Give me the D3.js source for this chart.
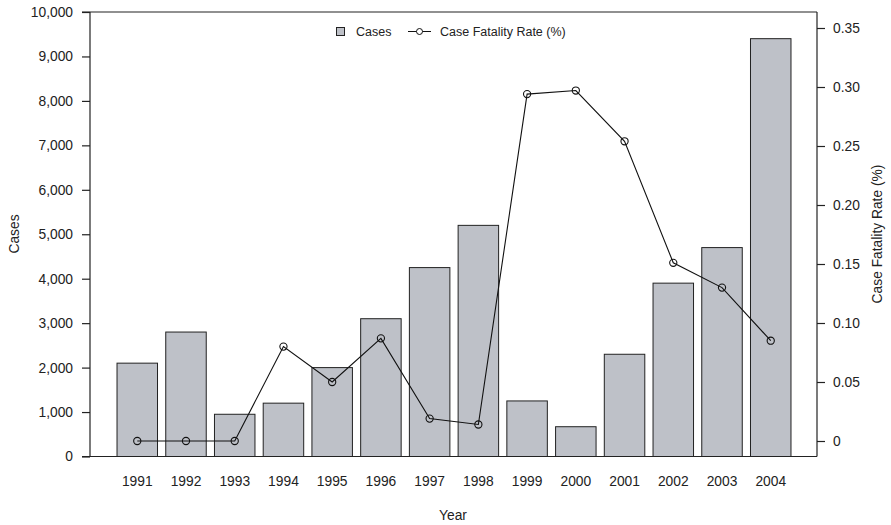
<!DOCTYPE html>
<html><head><meta charset="utf-8">
<script src="https://cdn.jsdelivr.net/npm/d3@7"></script>
<style>body{margin:0;background:#fff}svg{display:block;font-family:"Liberation Sans",Arial,sans-serif}</style>
</head><body>
<svg id="c" width="891" height="525"></svg>
<script>
const years = ["1991","1992","1993","1994","1995","1996","1997","1998","1999","2000","2001","2002","2003","2004"];
const cases = [2100,2800,950,1200,2000,3100,4250,5200,1250,670,2300,3900,4700,9400];
const cfr = [0,0,0,0.080,0.050,0.087,0.019,0.014,0.294,0.297,0.254,0.151,0.130,0.085];
const leftTicks = [0,1000,2000,3000,4000,5000,6000,7000,8000,9000,10000];
const rightTicks = [0,0.05,0.10,0.15,0.20,0.25,0.30,0.35];

const svg = d3.select("#c");
const L = 90, R = 817, T = 12;
const x = d3.scaleBand().domain(years).range([112.9, 795.1]).paddingInner(0.169).paddingOuter(0.0845);
const yL = d3.scaleLinear().domain([0,10000]).range([456.5, 12]);
const yR = d3.scaleLinear().domain([0,0.35]).range([441, 28]);
const FS = 13.8;

// bars
svg.append("g").selectAll("rect").data(cases).join("rect")
  .attr("x",(d,i)=>x(years[i])).attr("width",x.bandwidth())
  .attr("y",d=>yL(d)).attr("height",d=>yL(0)-yL(d))
  .attr("fill","#bec1c8").attr("stroke","#222").attr("stroke-width",1);

// frame lines
const fr = svg.append("g").attr("stroke","#222").attr("stroke-width",1.2).attr("fill","none");
fr.append("line").attr("x1",82).attr("x2",R).attr("y1",T).attr("y2",T);
fr.append("line").attr("x1",82).attr("x2",R).attr("y1",456.5).attr("y2",456.5);

// left axis
const axL = d3.axisLeft(yL).tickValues(leftTicks).tickSize(8).tickPadding(9).tickFormat(d3.format(","));
const gL = svg.append("g").attr("transform",`translate(${L},0)`).call(axL);
// right axis
const axR = d3.axisRight(yR).tickValues(rightTicks).tickSize(8).tickPadding(8).tickFormat(d=>d===0?"0":d3.format(".2f")(d));
const gR = svg.append("g").attr("transform",`translate(${R},0)`).call(axR);
gR.select(".domain").remove();
svg.append("line").attr("x1",R).attr("x2",R).attr("y1",T).attr("y2",456.5).attr("stroke","#222").attr("stroke-width",1.2);
[gL,gR].forEach(g=>{
  g.selectAll("text").attr("font-size",FS).attr("fill","#222").attr("font-family","Liberation Sans, Arial, sans-serif");
  g.selectAll("line").attr("stroke","#222").attr("stroke-width",1.2);
  g.select(".domain").attr("stroke","#222").attr("stroke-width",1.2);
});
gL.select(".domain").attr("d",`M0,${T}V456.5`);

// x labels
const axB = d3.axisBottom(x).tickSize(0).tickPadding(20);
const gB = svg.append("g").attr("transform",`translate(0,456.5)`).call(axB);
gB.select(".domain").remove();
gB.selectAll("text").attr("font-size",FS).attr("fill","#222").attr("font-family","Liberation Sans, Arial, sans-serif");

// line
const line = d3.line().x((d,i)=>x(years[i])+x.bandwidth()/2).y(d=>yR(d));
svg.append("path").datum(cfr).attr("d",line).attr("fill","none").attr("stroke","#111").attr("stroke-width",1.1);
svg.append("g").selectAll("circle").data(cfr).join("circle")
  .attr("cx",(d,i)=>x(years[i])+x.bandwidth()/2).attr("cy",d=>yR(d)).attr("r",3.6)
  .attr("fill","none").attr("stroke","#111").attr("stroke-width",1.1);

// axis titles
svg.append("text").attr("transform","translate(19,234) rotate(-90)").attr("text-anchor","middle")
  .attr("font-size",FS).attr("fill","#222").text("Cases");
svg.append("text").attr("transform","translate(882,234) rotate(-90)").attr("text-anchor","middle")
  .attr("font-size",FS).attr("fill","#222").text("Case Fatality Rate (%)");
svg.append("text").attr("x",453).attr("y",520).attr("text-anchor","middle")
  .attr("font-size",FS).attr("fill","#222").text("Year");

// legend
const lg = svg.append("g");
lg.append("rect").attr("x",336.5).attr("y",27.5).attr("width",8).attr("height",8)
  .attr("fill","#bec1c8").attr("stroke","#222");
lg.append("text").attr("x",356).attr("y",36).attr("font-size",12.5).attr("fill","#222").text("Cases");
lg.append("line").attr("x1",408).attr("x2",431).attr("y1",31.5).attr("y2",31.5).attr("stroke","#111");
lg.append("circle").attr("cx",419.5).attr("cy",31.5).attr("r",3).attr("fill","#fff").attr("stroke","#111");
lg.append("text").attr("x",440).attr("y",36).attr("font-size",12.5).attr("fill","#222").text("Case Fatality Rate (%)");
</script>
</body></html>
